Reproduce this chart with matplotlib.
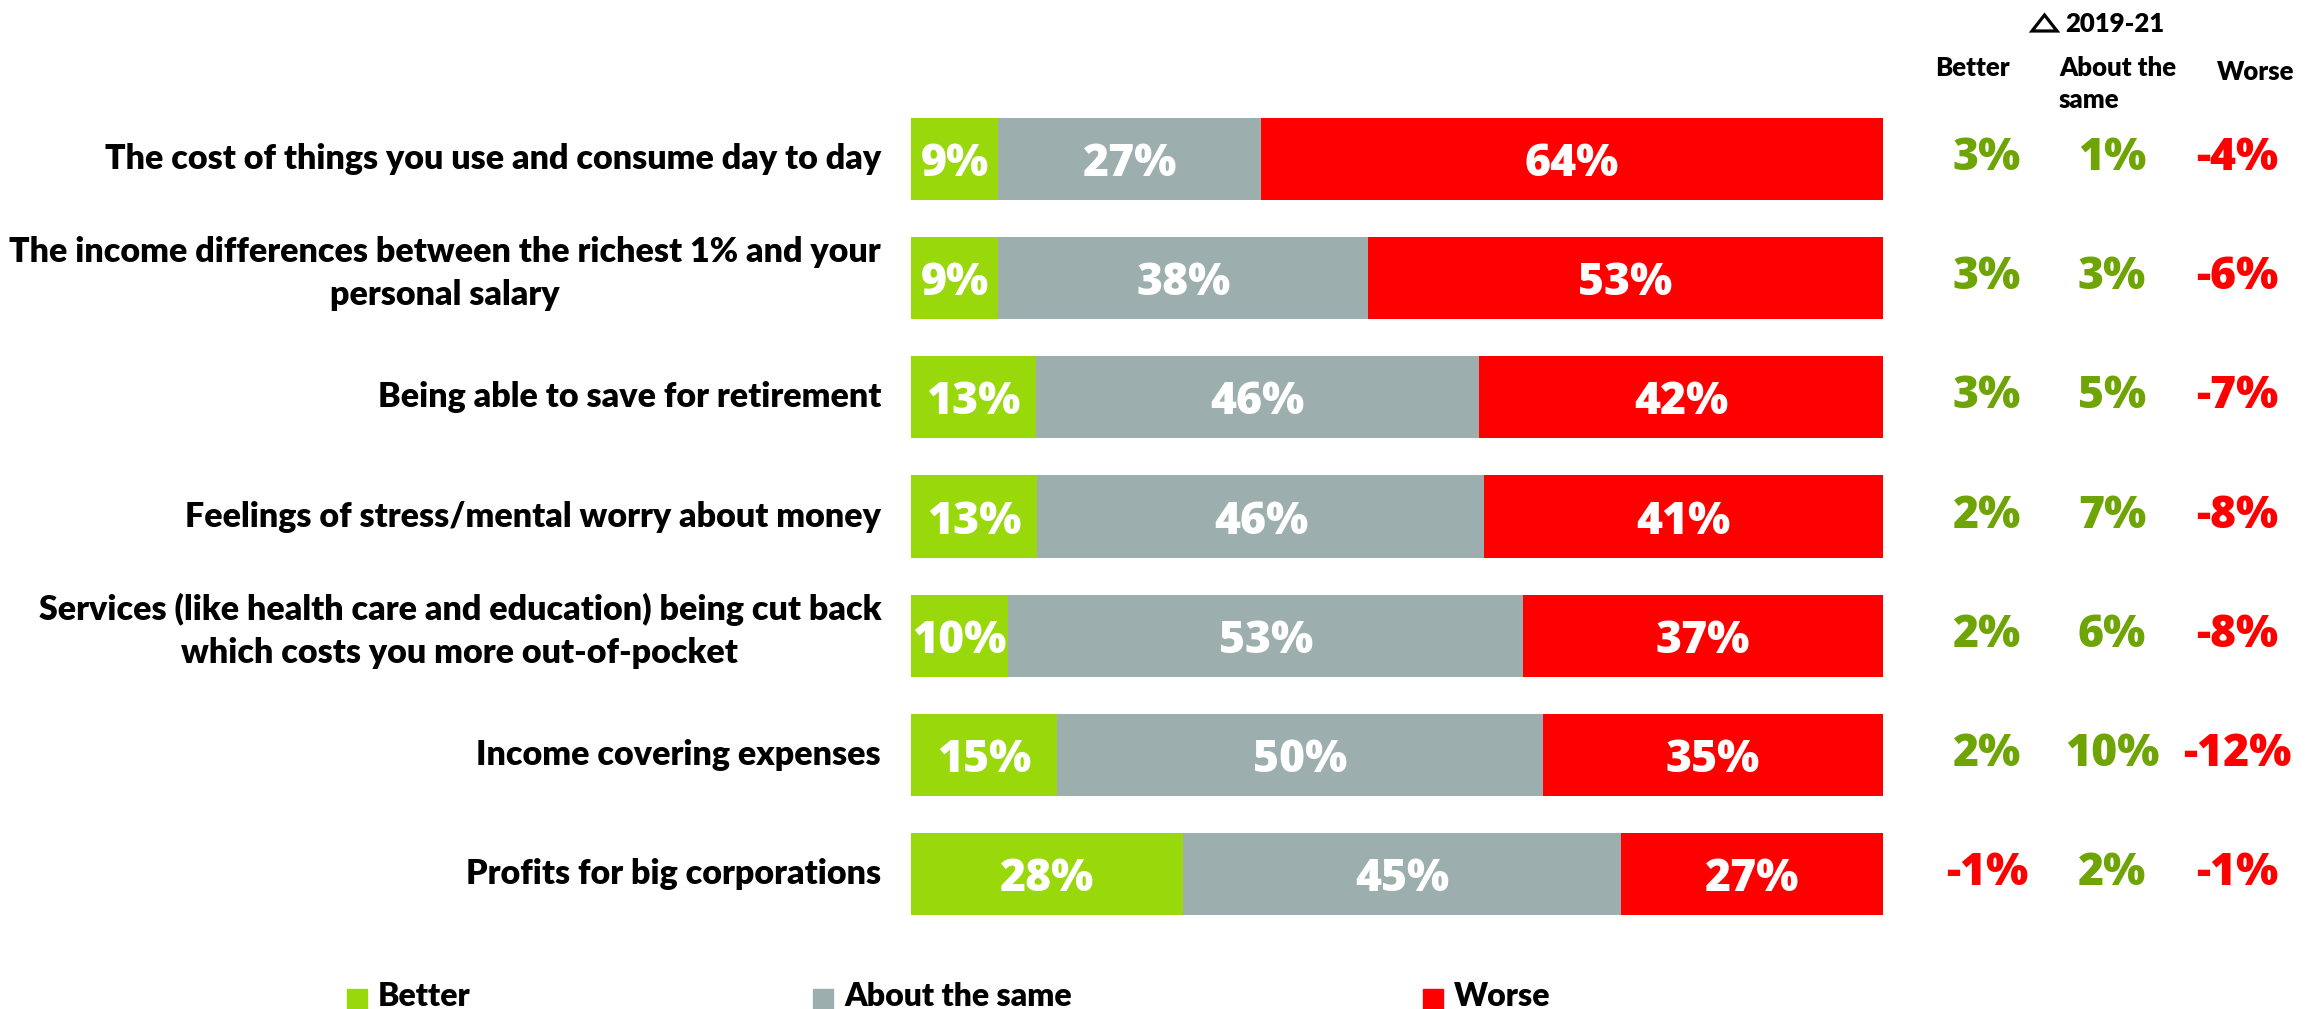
import matplotlib.pyplot as plt
from matplotlib.patches import Rectangle, Polygon
from matplotlib.transforms import blended_transform_factory

plt.rcParams['font.family'] = ['Lato', 'DejaVu Sans']
plt.rcParams['font.weight'] = 'heavy'
NUM_FONT = ['Open Sans', 'DejaVu Sans']

# data
categories = [
    "The cost of things you use and consume day to day",
    "The income differences between the richest 1% and your\npersonal salary",
    "Being able to save for retirement",
    "Feelings of stress/mental worry about money",
    "Services (like health care and education) being cut back\nwhich costs you more out-of-pocket",
    "Income covering expenses",
    "Profits for big corporations",
]
better = [9, 9, 13, 13, 10, 15, 28]
same = [27, 38, 46, 46, 53, 50, 45]
worse = [64, 53, 42, 41, 37, 35, 27]

change_better = [3, 3, 3, 2, 2, 2, -1]
change_same = [1, 3, 5, 7, 6, 10, 2]
change_worse = [-4, -6, -7, -8, -8, -12, -1]

series_names = ["Better", "About the same", "Worse"]
colors = ["#99D80B", "#9CAFAE", "#FF0000"]
pos_color = "#6EA505"
neg_color = "#FF0000"

W, H = 2323, 1009
fig = plt.figure(figsize=(W / 100, H / 100), dpi=100)

# axes placed to match the bar area
top_px, bot_px = 99.4, 933.6
ax = fig.add_axes([911 / W, 1 - bot_px / H, (1883 - 911) / W, (bot_px - top_px) / H])

n = len(categories)
ys = list(range(n))
totals = [b + s + w for b, s, w in zip(better, same, worse)]
left = [0] * n
for vals, col in zip([better, same, worse], colors):
    widths = [v / t * 100 for v, t in zip(vals, totals)]
    bars = ax.barh(ys, widths, left=left, height=0.69, color=col, edgecolor='none')
    for rect, v in zip(bars, vals):
        ax.text(rect.get_x() + rect.get_width() / 2, rect.get_y() + rect.get_height() / 2,
                f"{v}%", ha='center', va='center_baseline', color='white', fontsize=32,
                fontweight='heavy', family=NUM_FONT)
    left = [l + w for l, w in zip(left, widths)]

ax.set_xlim(0, 100)
ax.set_ylim(n - 0.5, -0.5)
ax.set_xticks([])
ax.set_yticks([])
for s in ax.spines.values():
    s.set_visible(False)

# category labels, right aligned just left of the bars
lab_tr = blended_transform_factory(ax.transAxes, ax.transData)
for y, cat in zip(ys, categories):
    dy = -0.04 if "\n" in cat else 0
    ax.text(-30 / 972, y + dy, cat, transform=lab_tr, ha='right', va='center',
            multialignment='center', fontsize=24.5, fontweight='heavy', linespacing=1.4)

# change columns (sit a little above the bar centres)
tr = blended_transform_factory(fig.transFigure, ax.transData)
col_x = [1987 / W, 2112 / W, 2237 / W]
for cx, vals in zip(col_x, [change_better, change_same, change_worse]):
    for y, v in zip(ys, vals):
        ax.text(cx, y - 0.05, f"{v}%", transform=tr, ha='center', va='center_baseline', fontsize=32,
                fontweight='heavy', family=NUM_FONT, color=pos_color if v > 0 else neg_color)

# headers
px = lambda x, y: (x / W, 1 - y / H)
fig.patches.append(Polygon([px(2032, 31), px(2057, 31), px(2044.5, 15)], closed=True, fill=False,
                           edgecolor='black', linewidth=2.3, joinstyle='miter',
                           transform=fig.transFigure, figure=fig))
fig.text(*px(2065, 32), "2019-21", ha='left', va='baseline', fontsize=18.5)
fig.text(*px(1972, 76), "Better", ha='center', va='baseline', fontsize=18.5)
fig.text(*px(2059, 76), "About the", ha='left', va='baseline', fontsize=18.5)
fig.text(*px(2059, 108), "same", ha='left', va='baseline', fontsize=18.5)
fig.text(*px(2256, 80), "Worse", ha='center', va='baseline', fontsize=18.5)

# legend
leg_x = [347, 813, 1423]
for lx, name, col in zip(leg_x, series_names, colors):
    fig.patches.append(Rectangle(px(lx, 1009), 20 / W, 20 / H, transform=fig.transFigure,
                                 color=col, figure=fig))
    fig.text(*px(lx + 31, 1006), name, ha='left', va='baseline', fontsize=23)

fig.savefig("out.png", dpi=100)
